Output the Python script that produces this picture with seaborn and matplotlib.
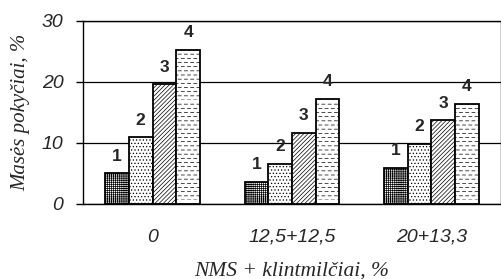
import warnings
import numpy as np
import pandas as pd
import seaborn as sns
import matplotlib.pyplot as plt
import matplotlib.hatch as mhatch
from matplotlib.path import Path
from matplotlib.ticker import FixedLocator

warnings.filterwarnings('ignore')

# Data
groups = ['0', '12,5+12,5', '20+13,3']
series = ['1', '2', '3', '4']
s1 = [5.0, 3.6, 5.9]
s2 = [10.9, 6.6, 9.8]
s3 = [19.6, 11.7, 13.7]
s4 = [25.2, 17.2, 16.4]
hatches = ['++++++++', '.....', '////////', 'dddd']


# staggered short dashes, like the "brick" fill in the original
class DashHatch(mhatch.HatchPatternBase):
    def __init__(self, hatch, density):
        self.rows = hatch.count('d') * density
        self.cols = self.rows * 2 // 3
        self.num_vertices = 2 * self.rows * self.cols

    def set_vertices_and_codes(self, vertices, codes):
        period = 1.0 / self.cols
        k = 0
        for r in range(self.rows):
            y = r / self.rows
            shift = period / 2 if r % 2 else 0.0
            for c in range(self.cols):
                x0 = c * period + shift
                vertices[k] = (x0, y)
                vertices[k + 1] = (x0 + period * 0.5, y)
                codes[k] = Path.MOVETO
                codes[k + 1] = Path.LINETO
                k += 2


mhatch._hatch_types.append(DashHatch)

df = pd.DataFrame({
    'group': groups * 4,
    'series': [s for s in series for _ in groups],
    'value': s1 + s2 + s3 + s4,
})

sns.set_style('white')
plt.rcParams['hatch.linewidth'] = 0.5
plt.rcParams['hatch.color'] = 'black'

fig = plt.figure(figsize=(5.02, 2.79), dpi=100)
ax = fig.add_axes([0.165, 0.269, 0.833, 0.656])

sns.barplot(data=df, x='group', y='value', hue='series', palette=['white'] * 4,
            edgecolor='black', linewidth=1.3, width=0.68, gap=0, legend=False, ax=ax)

for i, cont in enumerate(ax.containers):
    for bar in cont:
        bar.set_hatch(hatches[i])
    ax.bar_label(cont, labels=[series[i]] * len(groups), padding=7,
                 fontsize=12.5, fontweight='bold', family='Liberation Sans')

ax.set_ylim(0, 30)
ax.set_yticks([0, 10, 20, 30])
ax.set_xlim(-0.5, 2.5)
ax.yaxis.grid(True, color='black', linewidth=0.9)
ax.set_axisbelow(True)
for sp in ax.spines.values():
    sp.set_visible(True)
    sp.set_color('black')
    sp.set_linewidth(1.0)

ax.xaxis.set_minor_locator(FixedLocator([-0.5, 0.5, 1.5, 2.5]))
ax.tick_params(axis='x', which='major', length=0, pad=18)
ax.tick_params(axis='x', which='minor', length=6, width=1, direction='out', color='black')
ax.tick_params(axis='y', length=5, width=1, direction='out', color='black', left=True, pad=9)

for lab in ax.get_xticklabels() + ax.get_yticklabels():
    lab.set_family('Liberation Sans')
    lab.set_style('italic')
    lab.set_fontsize(14)

ax.set_xlabel('NMS + klintmilčiai, %', family='Liberation Serif', style='italic',
              fontsize=15.5, labelpad=11)
ax.set_ylabel('Masės pokyčiai, %', family='Liberation Serif', style='italic',
              fontsize=15, labelpad=8)

fig.savefig('out.png', dpi=100)
